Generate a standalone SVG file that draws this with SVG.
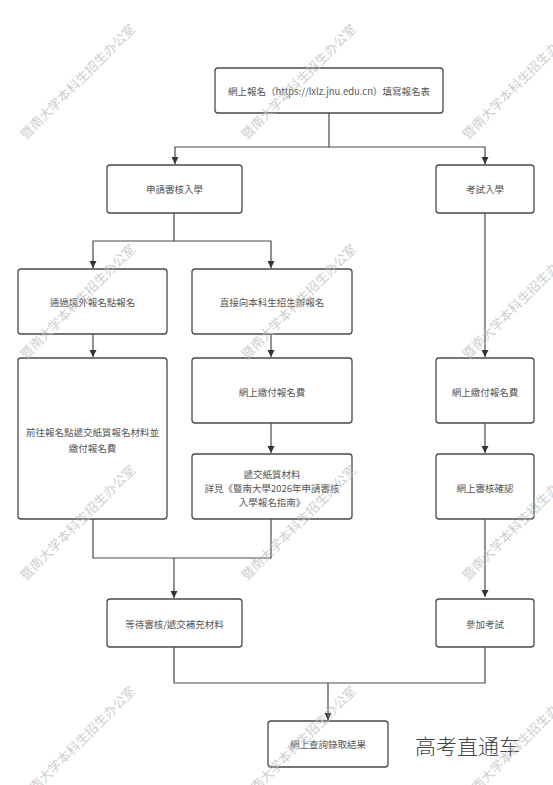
<svg xmlns="http://www.w3.org/2000/svg" width="553" height="785" viewBox="0 0 553 785">
<defs>
<style>
.box{fill:#fff;stroke:#4a4a4a;stroke-width:1.3}
.lbl{font-family:"Noto Sans CJK TC","Noto Sans CJK SC",sans-serif;font-size:9.5px;fill:#555;text-anchor:middle;dominant-baseline:central}
.con{fill:none;stroke:#4a4a4a;stroke-width:1.2}
.wm{font-family:"Noto Sans CJK SC",sans-serif;font-size:13px;fill:#bdbdbd;fill-opacity:0.75}
</style>
<marker id="arr" viewBox="0 0 10 10" refX="10" refY="5" markerWidth="7" markerHeight="8" markerUnits="userSpaceOnUse" orient="auto">
<path d="M0,0 L10,5 L0,10 z" fill="#333"/>
</marker>
</defs>
<rect width="553" height="785" fill="#fff"/>
<g id="connectors">
<path class="con" d="M329,113 V147 H175 V164" marker-end="url(#arr)"/>
<path class="con" d="M329,147 H485 V164" marker-end="url(#arr)"/>
<path class="con" d="M174,213 V241 H93 V268" marker-end="url(#arr)"/>
<path class="con" d="M174,241 H271 V268" marker-end="url(#arr)"/>
<path class="con" d="M93,334 V357" marker-end="url(#arr)"/>
<path class="con" d="M271,334 V357" marker-end="url(#arr)"/>
<path class="con" d="M271,423 V453" marker-end="url(#arr)"/>
<path class="con" d="M485,213 V357" marker-end="url(#arr)"/>
<path class="con" d="M485,423 V453" marker-end="url(#arr)"/>
<path class="con" d="M485,519 V597" marker-end="url(#arr)"/>
<path class="con" d="M93,519 V558 H271 V519"/>
<path class="con" d="M174,558 V598" marker-end="url(#arr)"/>
<path class="con" d="M174,647 V683 H485 V647"/>
<path class="con" d="M328,683 V720" marker-end="url(#arr)"/>
</g>
<g id="n_top"><rect class="box" x="215" y="68" width="228" height="45" rx="3"/><text class="lbl" x="329" y="91">網上報名（https://lxlz.jnu.edu.cn）填寫報名表</text></g>
<g id="n_apply"><rect class="box" x="107" y="165" width="135" height="48" rx="3"/><text class="lbl" x="174.5" y="189">申請審核入學</text></g>
<g id="n_exam"><rect class="box" x="436" y="165" width="98" height="48" rx="3"/><text class="lbl" x="485" y="189">考試入學</text></g>
<g id="n_overseas"><rect class="box" x="18" y="269" width="149" height="65" rx="3"/><text class="lbl" x="92.5" y="302">通過境外報名點報名</text></g>
<g id="n_direct"><rect class="box" x="192" y="269" width="160" height="65" rx="3"/><text class="lbl" x="272" y="302">直接向本科生招生辦報名</text></g>
<g id="n_goto"><rect class="box" x="18" y="358" width="149" height="161" rx="3"/><text class="lbl" x="92.5" y="432">前往報名點遞交紙質報名材料並</text><text class="lbl" x="92.5" y="448">繳付報名費</text></g>
<g id="n_pay1"><rect class="box" x="192" y="358" width="160" height="65" rx="3"/><text class="lbl" x="272" y="392">網上繳付報名費</text></g>
<g id="n_submit"><rect class="box" x="192" y="454" width="160" height="65" rx="3"/><text class="lbl" x="272" y="474">遞交紙質材料</text><text class="lbl" x="272" y="488">詳見《暨南大學2026年申請審核</text><text class="lbl" x="272" y="502">入學報名指南》</text></g>
<g id="n_pay2"><rect class="box" x="436" y="358" width="98" height="65" rx="3"/><text class="lbl" x="485" y="392">網上繳付報名費</text></g>
<g id="n_confirm"><rect class="box" x="436" y="454" width="98" height="65" rx="3"/><text class="lbl" x="485" y="488">網上審核確認</text></g>
<g id="n_wait"><rect class="box" x="107" y="599" width="135" height="48" rx="3"/><text class="lbl" x="174.5" y="624">等待審核/遞交補充材料</text></g>
<g id="n_take"><rect class="box" x="436" y="599" width="98" height="48" rx="3"/><text class="lbl" x="485" y="624">參加考試</text></g>
<g id="n_result"><rect class="box" x="268" y="721" width="120" height="46" rx="3"/><text class="lbl" x="328" y="744">網上查詢錄取結果</text></g>
<text x="415" y="745" font-family="'Noto Sans CJK SC',sans-serif" font-size="21" font-weight="300" fill="#444" dominant-baseline="central">高考直通车</text>
<g id="watermarks" class="wm">
<text transform="translate(26,140) rotate(-45)">暨南大学本科生招生办公室</text>
<text transform="translate(247,140) rotate(-45)">暨南大学本科生招生办公室</text>
<text transform="translate(468,140) rotate(-45)">暨南大学本科生招生办公室</text>
<text transform="translate(26,360) rotate(-45)">暨南大学本科生招生办公室</text>
<text transform="translate(247,360) rotate(-45)">暨南大学本科生招生办公室</text>
<text transform="translate(468,360) rotate(-45)">暨南大学本科生招生办公室</text>
<text transform="translate(26,581) rotate(-45)">暨南大学本科生招生办公室</text>
<text transform="translate(247,581) rotate(-45)">暨南大学本科生招生办公室</text>
<text transform="translate(468,581) rotate(-45)">暨南大学本科生招生办公室</text>
<text transform="translate(26,802) rotate(-45)">暨南大学本科生招生办公室</text>
<text transform="translate(247,802) rotate(-45)">暨南大学本科生招生办公室</text>
<text transform="translate(468,802) rotate(-45)">暨南大学本科生招生办公室</text>
</g>
</svg>
